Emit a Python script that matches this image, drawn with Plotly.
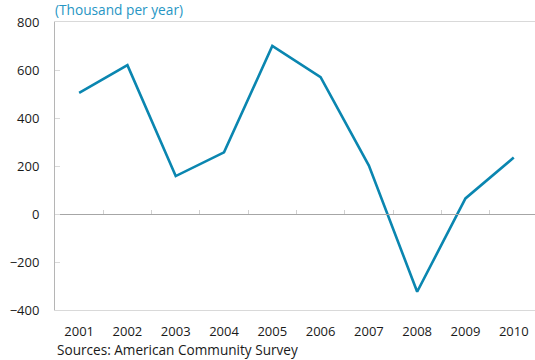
import plotly.graph_objects as go

years = ["2001", "2002", "2003", "2004", "2005", "2006", "2007", "2008", "2009", "2010"]
values = [505, 620, 158, 257, 700, 570, 202, -324, 65, 235]
y_ticks = [-400, -200, 0, 200, 400, 600, 800]

FONT = "Open Sans, Noto Sans, sans-serif"
LINE_COLOR = "#0a86b0"
TITLE_COLOR = "#2796c4"

fig = go.Figure()
fig.add_trace(go.Scatter(
    x=years, y=values, mode="lines",
    line=dict(color=LINE_COLOR, width=2.6),
    hoverinfo="skip", showlegend=False,
))
# invisible trace on the zero-line axis so it is drawn
fig.add_trace(go.Scatter(x=years, y=[None]*len(years), xaxis="x2", yaxis="y",
                         showlegend=False, hoverinfo="skip"))

fig.update_layout(
    width=535, height=360,
    margin=dict(l=55, r=0, t=22, b=50, autoexpand=False),
    paper_bgcolor="white", plot_bgcolor="white",
    font=dict(family=FONT, size=13, color="#1a1a1a"),
    xaxis=dict(
        type="category", categoryorder="array", categoryarray=years,
        range=[-0.5, 9.44], automargin=False,
        showgrid=False, zeroline=False,
        showline=True, linecolor="#d9d9d9", linewidth=1, mirror=True,
        ticks="", ticklabelstandoff=9,
        tickfont=dict(family=FONT, size=13, color="#1a1a1a"),
    ),
    xaxis2=dict(
        type="category", categoryorder="array", categoryarray=years,
        range=[-0.5, 9.44], overlaying="x", anchor="free", position=1/3,
        side="bottom", showline=True, linecolor="#a6a6a6", linewidth=1,
        ticks="inside", tickson="boundaries", ticklen=4, tickcolor="#d0d0d0",
        showticklabels=False, showgrid=False, zeroline=False, automargin=False,
    ),
    yaxis=dict(
        range=[-400, 800], tickvals=y_ticks, automargin=False,
        showgrid=False, zeroline=False,
        showline=True, linecolor="#b5b5b5", linewidth=1,
        ticks="inside", ticklen=5, tickcolor="#d9d9d9",
        ticklabelstandoff=12,
        tickfont=dict(family=FONT, size=13, color="#1a1a1a"),
    ),
    annotations=[
        dict(text="(Thousand per year)", xref="paper", yref="paper",
             x=0, y=1, xanchor="left", yanchor="bottom", yshift=1, xshift=-2, showarrow=False,
             font=dict(family=FONT, size=13.7, color=TITLE_COLOR)),
        dict(text="Sources: American Community Survey", xref="paper", yref="paper",
             x=0, y=0, xanchor="left", yanchor="top", yshift=-28, xshift=0, showarrow=False,
             font=dict(family=FONT, size=13.6, color="#1a1a1a")),
    ],
)

fig.write_html("out.html", config={"displayModeBar": False},
               post_script="document.body.style.margin='0';")
